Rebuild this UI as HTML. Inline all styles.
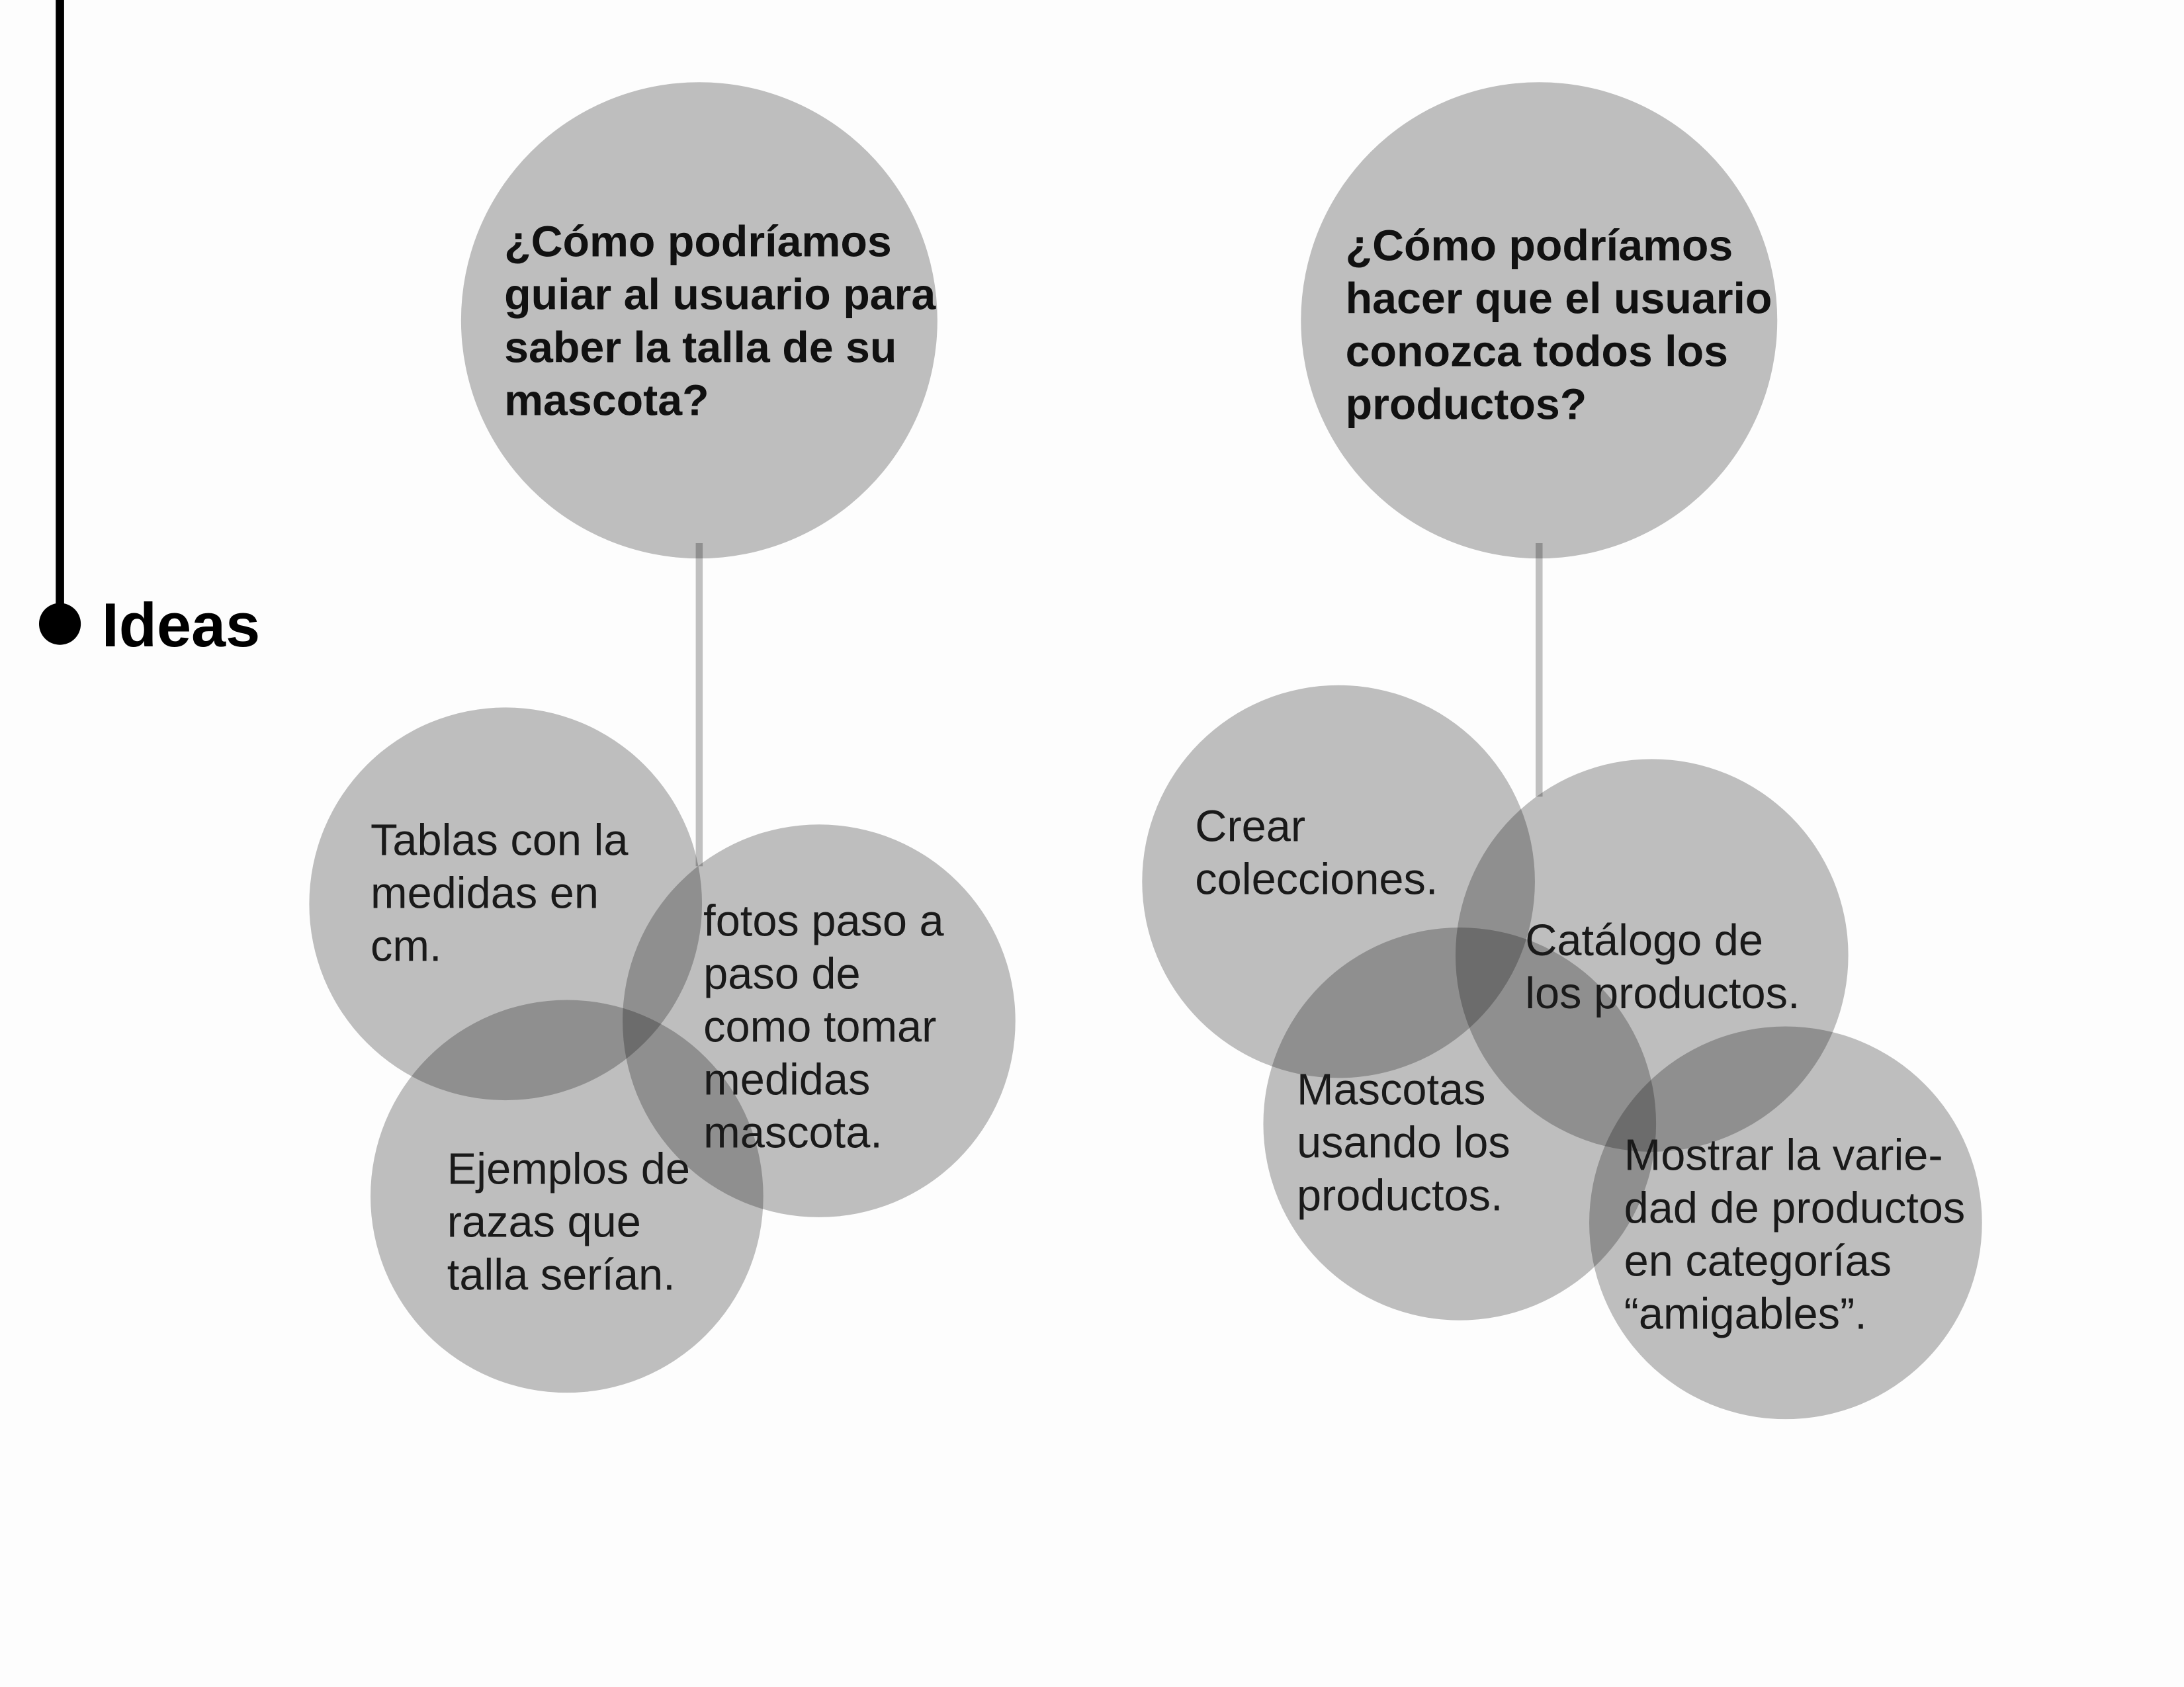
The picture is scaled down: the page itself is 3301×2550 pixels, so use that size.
<!DOCTYPE html>
<html><head><meta charset="utf-8">
<style>
html,body{margin:0;padding:0;background:#fdfdfd;}
svg{display:block;}
.c{fill:#c0c0c0;mix-blend-mode:multiply;}
.h{font-family:"Liberation Sans",Arial,sans-serif;font-weight:bold;font-size:31.5px;fill:#111;}
.t{font-family:"Liberation Sans",Arial,sans-serif;font-size:31.7px;fill:#1a1a1a;}
</style></head>
<body>
<svg width="3301" height="2550" viewBox="0 0 1568 1211.3" xmlns="http://www.w3.org/2000/svg">
<rect width="1568" height="1211.3" fill="#fdfdfd"/>
<line x1="43" y1="0" x2="43" y2="448" stroke="#000" stroke-width="6"/>
<circle cx="43" cy="448" r="15" fill="#000"/>
<text x="73" y="464" font-family="Liberation Sans, Arial, sans-serif" font-weight="bold" font-size="44.5" fill="#000">Ideas</text>

<line x1="502" y1="390" x2="502" y2="622" stroke="#c0c0c0" stroke-width="5"/>
<line x1="1105" y1="390" x2="1105" y2="572" stroke="#c0c0c0" stroke-width="5"/>

<g>
<circle class="c" cx="502" cy="230" r="171"/>
<circle class="c" cx="1105" cy="230" r="171"/>
<circle class="c" cx="363" cy="649" r="141"/>
<circle class="c" cx="588" cy="733" r="141"/>
<circle class="c" cx="407" cy="859" r="141"/>
<circle class="c" cx="961" cy="633" r="141"/>
<circle class="c" cx="1186" cy="686" r="141"/>
<circle class="c" cx="1048" cy="807" r="141"/>
<circle class="c" cx="1282" cy="878" r="141"/>
</g>

<text class="h"><tspan x="362" y="184">¿Cómo podríamos</tspan><tspan x="362" y="222">guiar al usuario para</tspan><tspan x="362" y="260">saber la talla de su</tspan><tspan x="362" y="298">mascota?</tspan></text>
<text class="h"><tspan x="966" y="187">¿Cómo podríamos</tspan><tspan x="966" y="225">hacer que el usuario</tspan><tspan x="966" y="263">conozca todos los</tspan><tspan x="966" y="301">productos?</tspan></text>

<text class="t"><tspan x="266" y="614">Tablas con la</tspan><tspan x="266" y="652">medidas en</tspan><tspan x="266" y="690">cm.</tspan></text>
<text class="t"><tspan x="505" y="672">fotos paso a</tspan><tspan x="505" y="710">paso de</tspan><tspan x="505" y="748">como tomar</tspan><tspan x="505" y="786">medidas</tspan><tspan x="505" y="824">mascota.</tspan></text>
<text class="t"><tspan x="321" y="850">Ejemplos de</tspan><tspan x="321" y="888">razas que</tspan><tspan x="321" y="926">talla serían.</tspan></text>
<text class="t"><tspan x="858" y="604">Crear</tspan><tspan x="858" y="642">colecciones.</tspan></text>
<text class="t"><tspan x="1095" y="686">Catálogo de</tspan><tspan x="1095" y="724">los productos.</tspan></text>
<text class="t"><tspan x="931" y="793">Mascotas</tspan><tspan x="931" y="831">usando los</tspan><tspan x="931" y="869">productos.</tspan></text>
<text class="t"><tspan x="1166" y="840">Mostrar la varie-</tspan><tspan x="1166" y="878">dad de productos</tspan><tspan x="1166" y="916">en categorías</tspan><tspan x="1166" y="954">“amigables”.</tspan></text>
</svg>
</body></html>
